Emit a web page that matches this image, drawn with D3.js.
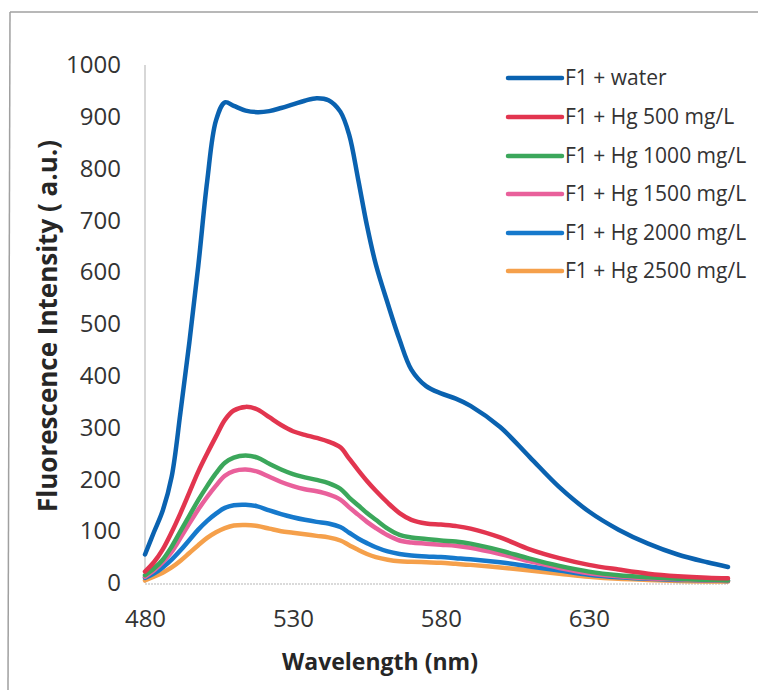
<!DOCTYPE html>
<html>
<head>
<meta charset="utf-8">
<script src="https://cdn.jsdelivr.net/npm/d3@7"></script>
<style>
  html, body { margin: 0; padding: 0; background: #fff; }
  svg { display: block; }
  text { font-family: "Open Sans", "Noto Sans", sans-serif; fill: #333; }
</style>
</head>
<body>
<svg id="chart" width="758" height="690"></svg>
<script>
const wavelengths = [480, 483, 486, 489, 492, 495, 498, 501, 504, 507, 510, 514, 518, 522, 526, 530, 534, 538, 542, 546, 549, 552, 555, 558, 562, 566, 570, 575, 580, 585, 590, 600, 610, 620, 630, 640, 650, 660, 670, 677];

const water  = [55, 98, 140, 205, 330, 465, 612, 775, 893, 928, 921, 912, 909, 911, 917, 924, 931, 936, 932, 910, 865, 780, 690, 615, 540, 470, 412, 380, 366, 356, 342, 301, 243, 185, 138, 103, 76, 55, 40, 31];
const hg500  = [22, 40, 65, 98, 135, 175, 215, 250, 283, 315, 333, 340, 335, 320, 305, 293, 286, 280, 273, 262, 240, 218, 197, 178, 155, 135, 122, 115, 113, 110, 105, 88, 65, 48, 35, 26, 18, 13, 10, 9];
const hg1000 = [15, 28, 45, 70, 100, 130, 160, 187, 212, 232, 242, 246, 242, 230, 219, 210, 204, 199, 193, 182, 165, 150, 135, 122, 105, 93, 88, 85, 82, 80, 76, 63, 47, 33, 22, 15, 11, 8, 6, 5];
const hg1500 = [12, 24, 40, 60, 87, 115, 142, 166, 188, 207, 216, 219, 215, 205, 195, 187, 181, 177, 171, 161, 146, 132, 118, 106, 92, 82, 78, 76, 74, 72, 68, 56, 42, 29, 19, 13, 9, 7, 5, 4];
const hg2000 = [10, 18, 30, 45, 63, 83, 103, 120, 134, 145, 150, 151, 148, 140, 133, 127, 122, 118, 115, 108, 97, 86, 77, 69, 61, 56, 53, 51, 50, 48, 46, 40, 32, 24, 16, 11, 8, 6, 5, 4];
const hg2500 = [5, 12, 20, 30, 43, 58, 73, 87, 98, 106, 111, 112, 110, 105, 100, 97, 94, 91, 88, 82, 73, 64, 56, 50, 45, 42, 41, 40, 39, 37, 35, 30, 24, 18, 12, 8, 6, 4, 3, 3];

const seriesNames = ["F1 + water", "F1 + Hg 500 mg/L", "F1 + Hg 1000 mg/L", "F1 + Hg 1500 mg/L", "F1 + Hg 2000 mg/L", "F1 + Hg 2500 mg/L"];
const seriesValues = [water, hg500, hg1000, hg1500, hg2000, hg2500];
const seriesColors = ["#0a62b0", "#e2354f", "#3ba75b", "#e9609b", "#1679cc", "#f5a04b"];

const xTicks = [480, 530, 580, 630];
const yTicks = [0, 100, 200, 300, 400, 500, 600, 700, 800, 900, 1000];
const xTitle = "Wavelength (nm)";
const yTitle = "Fluorescence Intensity ( a.u.)";

const svg = d3.select("#chart");

// outer frame (top and left edges visible)
svg.append("line").attr("x1", 10).attr("y1", 12).attr("x2", 760).attr("y2", 12)
  .attr("stroke", "#a0a0a0").attr("stroke-width", 1.5);
svg.append("line").attr("x1", 10).attr("y1", 12).attr("x2", 8).attr("y2", 692)
  .attr("stroke", "#a0a0a0").attr("stroke-width", 1.5);

const x = d3.scaleLinear().domain([480, 677]).range([145, 728]);
const y = d3.scaleLinear().domain([0, 1000]).range([583, 65]);

// axes lines
svg.append("line").attr("x1", x(480)).attr("x2", x(480)).attr("y1", y(1000)).attr("y2", y(0))
  .attr("stroke", "#bdbdbd").attr("stroke-width", 1.2);
svg.append("line").attr("x1", x(480)).attr("x2", x(677)).attr("y1", y(0) + 1).attr("y2", y(0) + 1)
  .attr("stroke", "#b5b5b5").attr("stroke-width", 1.2).attr("stroke-dasharray", "2,1");

// y axis ticks
const yAxis = d3.axisLeft(y).tickValues(yTicks).tickSize(0).tickPadding(24).tickFormat(d3.format("d"));
const gy = svg.append("g").attr("transform", `translate(${x(480)},0)`).call(yAxis);
gy.select(".domain").remove();
gy.selectAll("text").style("font-size", "24px").style("fill", "#333").style("font-family", "'Open Sans', sans-serif");

// x axis ticks
const xAxis = d3.axisBottom(x).tickValues(xTicks).tickSize(0).tickPadding(27).tickFormat(d3.format("d"));
const gx = svg.append("g").attr("transform", `translate(0,${y(0)})`).call(xAxis);
gx.select(".domain").remove();
gx.selectAll("text").style("font-size", "24px").style("fill", "#333").style("font-family", "'Open Sans', sans-serif");

// titles
svg.append("text").attr("x", 380).attr("y", 670).attr("text-anchor", "middle")
  .style("font-size", "23px").style("font-weight", "bold").style("fill", "#262626").text(xTitle);
svg.append("text").attr("transform", "translate(57,326) rotate(-90)").attr("text-anchor", "middle")
  .style("font-size", "26px").style("font-weight", "bold").style("fill", "#262626").text(yTitle);

// lines
const line = d3.line()
  .x((d, i) => x(wavelengths[i]))
  .y(d => y(d))
  .curve(d3.curveCatmullRom.alpha(0.5));

const drawOrder = [5, 4, 3, 2, 1, 0];
drawOrder.forEach(k => {
  svg.append("path").datum(seriesValues[k])
    .attr("d", line)
    .attr("fill", "none")
    .attr("stroke", seriesColors[k])
    .attr("stroke-width", 4.5)
    .attr("stroke-linejoin", "round")
    .attr("stroke-linecap", "round");
});

// legend
const legendY = [78, 117, 156, 194, 233, 271];
const lg = svg.append("g");
seriesNames.forEach((name, i) => {
  lg.append("line").attr("x1", 508).attr("x2", 562).attr("y1", legendY[i]).attr("y2", legendY[i])
    .attr("stroke", seriesColors[i]).attr("stroke-width", 4.5).attr("stroke-linecap", "round");
  lg.append("text").attr("x", 565).attr("y", legendY[i]).attr("dy", "0.35em")
    .style("font-size", "21px").style("fill", "#333").text(name);
});
</script>
</body>
</html>
